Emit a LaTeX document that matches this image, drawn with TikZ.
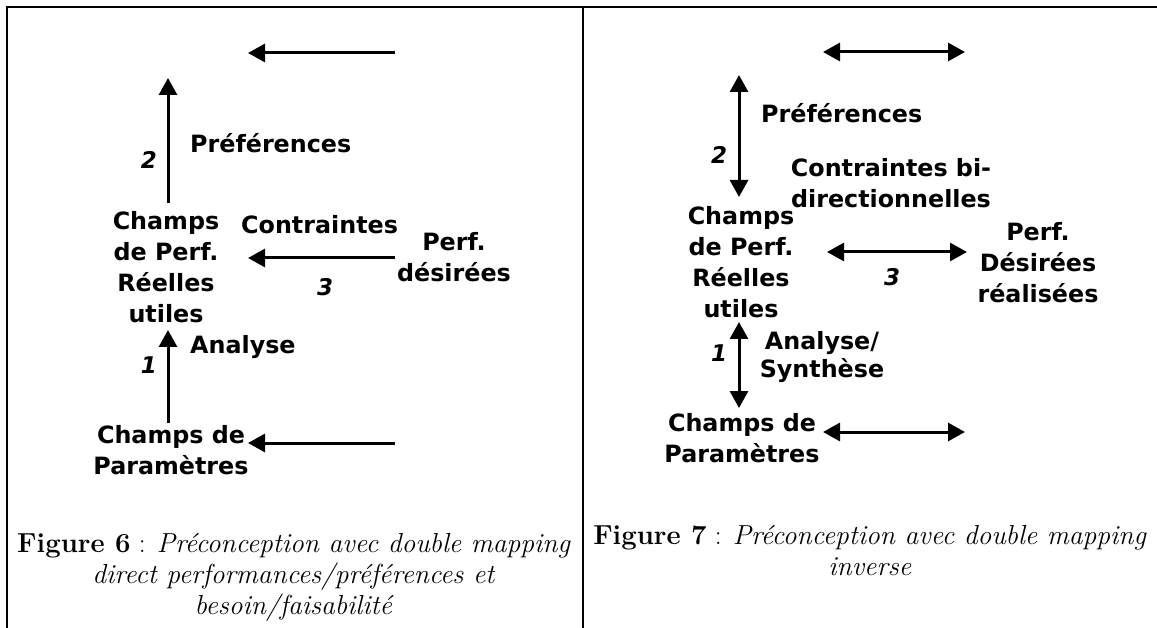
\documentclass[tikz,border=0pt]{standalone}
\usepackage{fontspec}
\setsansfont{DejaVu Sans}
\usetikzlibrary{arrows.meta}
\begin{document}
\begin{tikzpicture}[x=1pt,y=-1pt,
  lbl/.style={font=\sffamily\bfseries\fontsize{23.8}{31}\selectfont, inner sep=0pt, align=center},
  lbll/.style={lbl, anchor=west},
  num/.style={font=\sffamily\bfseries\itshape\fontsize{23}{26}\selectfont, inner sep=0pt},
  captxt/.style={font=\fontsize{27.5}{31}\selectfont, inner sep=0pt, align=center},
  arr/.style={line width=3pt, -{Triangle[length=17pt,width=18pt]}},
  darr/.style={line width=3pt, {Triangle[length=17pt,width=18pt]}-{Triangle[length=17pt,width=18pt]}},
  frameline/.style={line width=2pt}]
\useasboundingbox (0,0) rectangle (1157,628);
% frame
\draw[frameline] (7,628) -- (7,7) -- (1157,7);
\draw[frameline] (583,7) -- (583,628);

% ---------- left panel (Figure 6) ----------
\node[lbl] (pr6) at (166,267) {Champs\\de Perf.\\Réelles\\utiles};
\node[lbl] (cp6) at (171,450) {Champs de\\Paramètres};
\node[lbl] (pd6) at (454,257) {Perf.\\désirées};
\node[lbll] (pref6) at (190,143) {Préférences};
\node[lbll] (con6) at (241,225) {Contraintes};
\node[lbll] (ana6) at (190,347) {Analyse};
\node[num] (n2l) at (149,160) {2};
\node[num] (n3l) at (325,287) {3};
\node[num] (n1l) at (149,365) {1};

\coordinate (t6a) at (395,53);  \coordinate (t6b) at (248,53);
\coordinate (v2a) at (168,203); \coordinate (v2b) at (168,78);
\coordinate (h3a) at (395,258); \coordinate (h3b) at (248,258);
\coordinate (v1a) at (168,423); \coordinate (v1b) at (168,330);
\coordinate (b6a) at (395,443); \coordinate (b6b) at (248,443);
\draw[arr] (t6a) -- (t6b);
\draw[arr] (v2a) -- (v2b);
\draw[arr] (h3a) -- (h3b);
\draw[arr] (v1a) -- (v1b);
\draw[arr] (b6a) -- (b6b);

\node[captxt] (cap6) at (294,577) {\textbf{Figure 6} : \textit{Préconception avec double mapping}\\\textit{direct performances/préférences et}\\\textit{besoin/faisabilité}};

% ---------- right panel (Figure 7) ----------
\node[lbl] (pr7) at (741,262) {Champs\\de Perf.\\Réelles\\utiles};
\node[lbl] (cp7) at (742,438) {Champs de\\Paramètres};
\node[lbl] (pd7) at (1038,263) {Perf.\\Désirées\\réalisées};
\node[lbll] (pref7) at (761,113) {Préférences};
\node[lbl] (con7) at (891,183) {Contraintes bi-\\directionnelles};
\node[lbl, font=\sffamily\bfseries\fontsize{23.8}{28}\selectfont] (ana7) at (822,357) {Analyse/\\Synthèse};
\node[num] (n2r) at (719,155) {2};
\node[num] (n3r) at (892,277) {3};
\node[num] (n1r) at (719,353) {1};

\coordinate (t7a) at (823,52);  \coordinate (t7b) at (965,52);
\coordinate (w2a) at (739,75);  \coordinate (w2b) at (739,197);
\coordinate (g3a) at (827,252); \coordinate (g3b) at (967,252);
\coordinate (w1a) at (739,322); \coordinate (w1b) at (739,408);
\coordinate (b7a) at (823,432); \coordinate (b7b) at (965,432);
\draw[darr] (t7a) -- (t7b);
\draw[darr] (w2a) -- (w2b);
\draw[darr] (g3a) -- (g3b);
\draw[darr] (w1a) -- (w1b);
\draw[darr] (b7a) -- (b7b);

\node[captxt] (cap7) at (870,551) {\textbf{Figure 7} : \textit{Préconception avec double mapping}\\\textit{inverse}};
\end{tikzpicture}
\end{document}
